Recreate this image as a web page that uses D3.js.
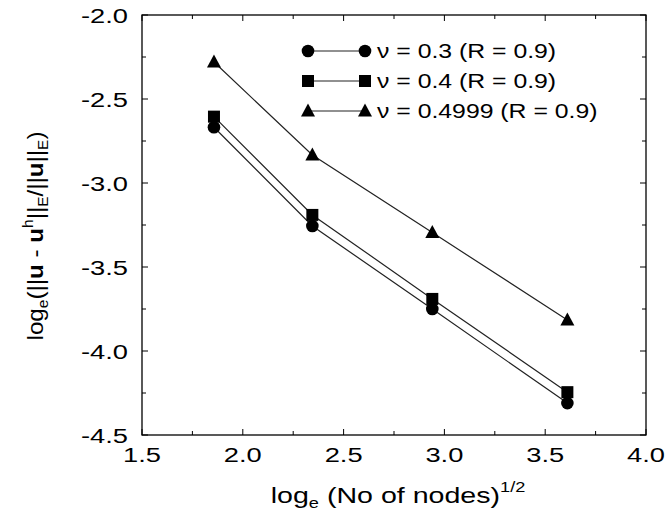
<!DOCTYPE html>
<html><head><meta charset="utf-8">
<script src="https://cdn.jsdelivr.net/npm/d3@7"></script>
<style>body{margin:0;background:#fff}text{font-family:"Liberation Sans",Arial,sans-serif}</style>
</head><body><svg id="c" width="668" height="517"></svg>
<script>
const xValues = [1.857, 2.345, 2.94, 3.61];
const nu03 = [-2.668, -3.256, -3.75, -4.31];
const nu04 = [-2.605, -3.19, -3.69, -4.245];
const nu04999 = [-2.28, -2.833, -3.295, -3.815];
const seriesNames = ["ν = 0.3 (R = 0.9)", "ν = 0.4 (R = 0.9)", "ν = 0.4999 (R = 0.9)"];
const seriesSymbols = ["circle", "square", "triangle"];
const xTicks = [1.5, 2.0, 2.5, 3.0, 3.5, 4.0];
const yTicks = [-2.0, -2.5, -3.0, -3.5, -4.0, -4.5];

const svg = d3.select("#c");
const L = 142, R = 646, T = 15, B = 435;
const x = d3.scaleLinear().domain([1.5, 4.0]).range([L, R]);
const y = d3.scaleLinear().domain([-4.5, -2.0]).range([B, T]);

const series = [nu03, nu04, nu04999];

svg.append("rect").attr("x", L).attr("y", T).attr("width", R - L).attr("height", B - T)
  .attr("fill", "none").attr("stroke", "#000").attr("stroke-width", 1.3);

const xMinor = d3.range(1.75, 4.0, 0.5);
const yMinor = d3.range(-4.25, -2.0, 0.5);
const g = svg.append("g").attr("stroke", "#000").attr("stroke-width", 1);
xTicks.forEach(v => {
  g.append("line").attr("x1", x(v)).attr("x2", x(v)).attr("y1", B).attr("y2", B - 6);
  g.append("line").attr("x1", x(v)).attr("x2", x(v)).attr("y1", T).attr("y2", T + 6);
});
xMinor.forEach(v => {
  g.append("line").attr("x1", x(v)).attr("x2", x(v)).attr("y1", B).attr("y2", B - 4);
  g.append("line").attr("x1", x(v)).attr("x2", x(v)).attr("y1", T).attr("y2", T + 4);
});
yTicks.forEach(v => {
  g.append("line").attr("y1", y(v)).attr("y2", y(v)).attr("x1", L).attr("x2", L + 6);
  g.append("line").attr("y1", y(v)).attr("y2", y(v)).attr("x1", R).attr("x2", R - 6);
});
yMinor.forEach(v => {
  g.append("line").attr("y1", y(v)).attr("y2", y(v)).attr("x1", L).attr("x2", L + 4);
  g.append("line").attr("y1", y(v)).attr("y2", y(v)).attr("x1", R).attr("x2", R - 4);
});

const SX = 1.3;
xTicks.forEach(v => {
  svg.append("text").attr("transform", `translate(${x(v)},462) scale(${SX},1)`).attr("text-anchor", "middle")
    .attr("font-size", 21).text(d3.format(".1f")(v));
});
yTicks.forEach(v => {
  svg.append("text").attr("transform", `translate(128,${y(v) + 7.5}) scale(${SX},1)`).attr("text-anchor", "end")
    .attr("font-size", 21).text(d3.format(".1f")(v).replace("−", "-"));
});

const xl = svg.append("text").attr("transform", `translate(398,503) scale(1.3,1)`).attr("text-anchor", "middle").attr("font-size", 22);
xl.append("tspan").text("log");
xl.append("tspan").attr("font-size", 14).attr("dy", 5).text("e");
xl.append("tspan").attr("dy", -5).text(" (No of nodes)");
xl.append("tspan").attr("font-size", 14).attr("dy", -11).text("1/2");

const yl = svg.append("text").attr("transform", "translate(43,236) rotate(-90) scale(1.1,1)")
  .attr("text-anchor", "middle").attr("font-size", 22);
yl.append("tspan").text("log");
yl.append("tspan").attr("font-size", 14).attr("dy", 5).text("e");
yl.append("tspan").attr("dy", -5).text("(||");
yl.append("tspan").attr("font-weight", "bold").text("u");
yl.append("tspan").text(" - ");
yl.append("tspan").attr("font-weight", "bold").text("u");
yl.append("tspan").attr("font-size", 14).attr("dy", -10).text("h");
yl.append("tspan").attr("dy", 10).text("||");
yl.append("tspan").attr("font-size", 14).attr("dy", 5).text("E");
yl.append("tspan").attr("dy", -5).text("/||");
yl.append("tspan").attr("font-weight", "bold").text("u");
yl.append("tspan").text("||");
yl.append("tspan").attr("font-size", 14).attr("dy", 5).text("E");
yl.append("tspan").attr("dy", -5).text(")");

function marker(sel, type, cx, cy) {
  if (type === "circle") sel.append("circle").attr("cx", cx).attr("cy", cy).attr("r", 6.3).attr("fill", "#000");
  else if (type === "square") sel.append("rect").attr("x", cx - 6).attr("y", cy - 6).attr("width", 12).attr("height", 12).attr("fill", "#000");
  else sel.append("path").attr("d", `M${cx},${cy - 7.5}L${cx + 7},${cy + 5.5}L${cx - 7},${cy + 5.5}Z`).attr("fill", "#000");
}

const line = d3.line().x((d, i) => x(xValues[i])).y(d => y(d));
series.forEach((s, k) => {
  svg.append("path").attr("d", line(s)).attr("fill", "none").attr("stroke", "#222").attr("stroke-width", 1.2);
  const mg = svg.append("g");
  s.forEach((v, i) => marker(mg, seriesSymbols[k], x(xValues[i]), y(v)));
});

const legY = [51, 81, 111];
seriesNames.forEach((name, k) => {
  const ly = legY[k];
  svg.append("line").attr("x1", 308).attr("x2", 365).attr("y1", ly).attr("y2", ly).attr("stroke", "#222").attr("stroke-width", 1.2);
  marker(svg, seriesSymbols[k], 308, ly);
  marker(svg, seriesSymbols[k], 365, ly);
  svg.append("text").attr("transform", `translate(377,${ly + 7}) scale(1.24,1)`).attr("font-size", 20).text(name);
});
</script></body></html>
